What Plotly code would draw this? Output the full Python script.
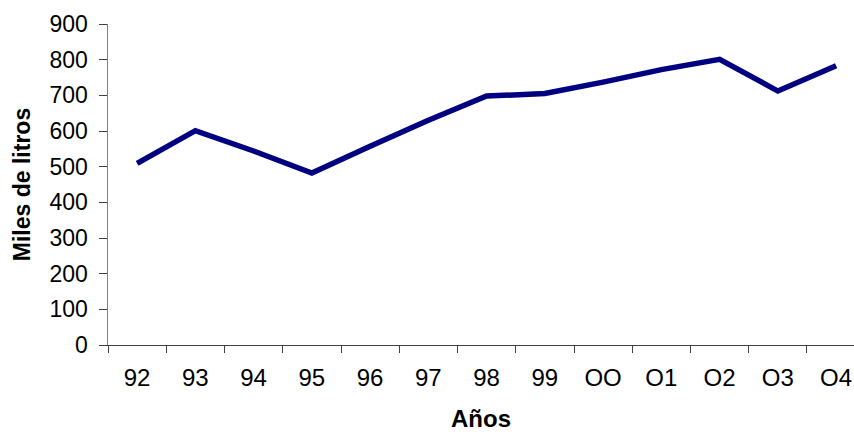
import plotly.graph_objects as go

years = ["92", "93", "94", "95", "96", "97", "98", "99", "OO", "O1", "O2", "O3", "O4"]
litros = [509, 601, 544, 482, 557, 630, 698, 705, 737, 772, 801, 712, 783]

fig = go.Figure()
fig.add_trace(go.Scatter(
    x=years, y=litros, mode="lines",
    line=dict(color="#000080", width=5.5),
    hoverinfo="skip", showlegend=False,
))

font_family = "Liberation Sans, Arial, sans-serif"
fig.update_layout(
    width=854, height=432,
    margin=dict(l=108, r=0, t=24, b=87),
    paper_bgcolor="white", plot_bgcolor="white",
    font=dict(family=font_family, color="black", size=24),
    xaxis=dict(
        type="category",
        range=[-0.5, 12.307],
        tickson="boundaries",
        ticks="outside", ticklen=7, tickcolor="#404040", tickwidth=1,
        showline=True, linecolor="#404040", linewidth=1,
        showgrid=False, zeroline=False,
        tickfont=dict(size=24),
        ticklabelstandoff=11,
        title=dict(text="<b>Años</b>", font=dict(size=24), standoff=22),
    ),
    yaxis=dict(
        range=[0, 900], dtick=100,
        ticks="outside", ticklen=8, tickcolor="#404040", tickwidth=1,
        showline=True, linecolor="#808080", linewidth=1.5,
        showgrid=False, zeroline=False,
        tickfont=dict(size=23),
        ticklabelstandoff=6,
        title=dict(text="<b>Miles de litros</b>", font=dict(size=23), standoff=12),
    ),
)

fig.write_html(
    "out.html",
    config={"displayModeBar": False, "staticPlot": True},
    post_script="document.body.style.margin='0';document.body.style.overflow='hidden';",
)
